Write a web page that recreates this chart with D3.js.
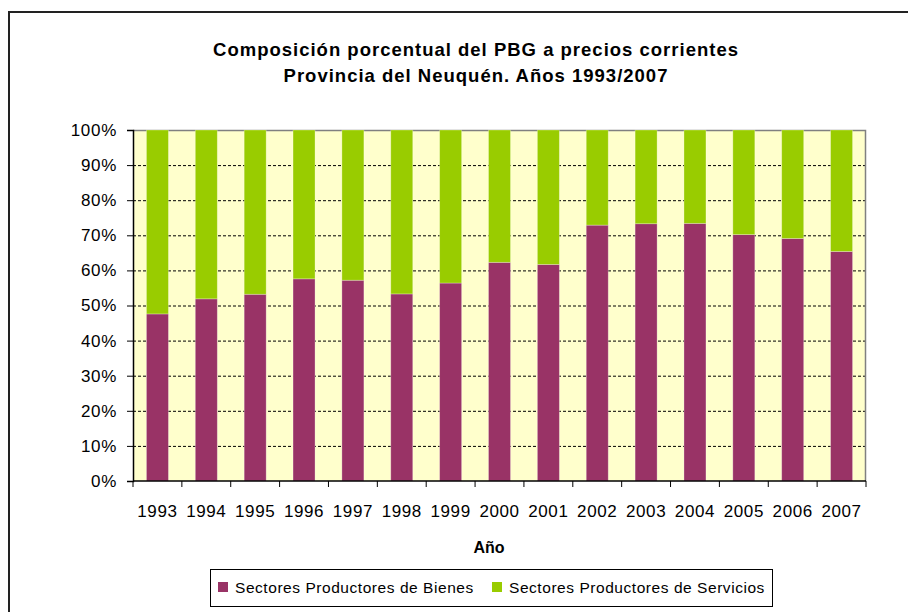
<!DOCTYPE html>
<html>
<head>
<meta charset="utf-8">
<script src="https://cdn.jsdelivr.net/npm/d3@7"></script>
<style>
  body { margin: 0; background: #fff; }
  text { font-family: "Liberation Sans", Arial, sans-serif; fill: #000; }
</style>
</head>
<body>
<div class="chart"></div>
<script>
// data
const years = ["1993","1994","1995","1996","1997","1998","1999","2000","2001","2002","2003","2004","2005","2006","2007"];
const bienes = [47.6, 51.9, 53.2, 57.6, 57.2, 53.3, 56.4, 62.3, 61.7, 72.9, 73.3, 73.4, 70.2, 69.1, 65.4];
const servicios = bienes.map(v => 100 - v);
const seriesNames = ["Sectores Productores de Bienes", "Sectores Productores de Servicios"];
const seriesColors = ["#993366", "#99cc00"];
const yTicks = [0, 10, 20, 30, 40, 50, 60, 70, 80, 90, 100];

const W = 908, H = 612;
const margin = {top: 130, right: 42, bottom: 131, left: 133},
    width = W - margin.left - margin.right,
    height = H - margin.top - margin.bottom;

const root = d3.select(".chart")
  .append("svg")
    .attr("width", W)
    .attr("height", H);

// outer frame (only left and top visible in the reference)
root.append("path")
    .attr("d", `M9,${H} V12 H${W}`)
    .attr("fill", "none")
    .attr("stroke", "#222")
    .attr("stroke-width", 2);

// title
const title = root.append("text")
    .attr("text-anchor", "middle")
    .attr("font-weight", "bold")
    .attr("font-size", "18.5px")
    .attr("letter-spacing", "1px");
title.append("tspan").attr("x", 476).attr("y", 56).text("Composición porcentual del PBG a precios corrientes");
title.append("tspan").attr("x", 476).attr("y", 82).text("Provincia del Neuquén. Años 1993/2007");

const svg = root.append("g")
    .attr("transform", `translate(${margin.left},${margin.top})`);

const x = d3.scaleBand()
    .domain(years)
    .range([0, width])
    .paddingInner(0.55)
    .paddingOuter(0.275);

const y = d3.scaleLinear()
    .domain([0, 100])
    .range([height, 0]);

// plot background
svg.append("rect")
    .attr("width", width)
    .attr("height", height)
    .attr("fill", "#ffffcc");

// gridlines
svg.selectAll(".grid")
  .data(yTicks.filter(t => t > 0 && t < 100))
  .join("line")
    .attr("x1", 0)
    .attr("x2", width)
    .attr("y1", d => y(d) + 0.5)
    .attr("y2", d => y(d) + 0.5)
    .attr("stroke", "#000")
    .attr("stroke-width", 1)
    .attr("stroke-dasharray", "3,2");

// plot border top/right
svg.append("path")
    .attr("d", `M0,0.5 H${width - 0.5} V${height}`)
    .attr("fill", "none")
    .attr("stroke", "#808080")
    .attr("stroke-width", 1.5);

// stacked bars
const table = years.map((yr, i) => ({year: yr, bienes: bienes[i], servicios: servicios[i]}));
const stack = d3.stack().keys(["bienes", "servicios"])(table);

svg.selectAll(".serie")
  .data(stack)
  .join("g")
    .attr("fill", (d, i) => seriesColors[i])
  .selectAll("rect")
  .data(d => d)
  .join("rect")
    .attr("x", d => x(d.data.year))
    .attr("width", x.bandwidth())
    .attr("y", d => y(d[1]))
    .attr("height", d => y(d[0]) - y(d[1]))
    .attr("stroke", "rgba(255,255,255,0.35)")
    .attr("stroke-width", 0.8);

// y axis
const yAxis = svg.append("g")
    .call(d3.axisLeft(y).tickValues(yTicks).tickFormat(d => d + "%").tickSize(6).tickPadding(10));
yAxis.select(".domain").attr("stroke", "#000").attr("stroke-width", 1.5);
yAxis.selectAll(".tick line").attr("stroke", "#000");
yAxis.selectAll(".tick text")
    .attr("font-size", "17px")
    .attr("letter-spacing", "0.7px")
    .attr("font-family", "Liberation Sans, Arial, sans-serif");

// x axis with ticks between categories
const xAxis = svg.append("g")
    .attr("transform", `translate(0,${height})`);
xAxis.append("line")
    .attr("x1", 0).attr("x2", width)
    .attr("stroke", "#000").attr("stroke-width", 1.5);
const step = x.step();
xAxis.selectAll(".sep")
  .data(d3.range(years.length + 1))
  .join("line")
    .attr("x1", d => d * step)
    .attr("x2", d => d * step)
    .attr("y1", 0)
    .attr("y2", 6)
    .attr("stroke", "#000");
xAxis.selectAll(".lbl")
  .data(years)
  .join("text")
    .attr("x", d => x(d) + x.bandwidth() / 2)
    .attr("y", 36)
    .attr("text-anchor", "middle")
    .attr("font-size", "17px")
    .attr("letter-spacing", "0.6px")
    .text(d => d);

// x axis title
root.append("text")
    .attr("x", 489)
    .attr("y", 553)
    .attr("text-anchor", "middle")
    .attr("font-weight", "bold")
    .attr("font-size", "16px")
    .text("Año");

// legend
const legend = root.append("g");
legend.append("rect")
    .attr("x", 210.5).attr("y", 569.5)
    .attr("width", 562).attr("height", 37)
    .attr("fill", "#fff")
    .attr("stroke", "#000");
const legendX = [218, 492];
const items = legend.selectAll(".item")
  .data(seriesNames)
  .join("g")
    .attr("transform", (d, i) => `translate(${legendX[i]},582)`);
items.append("rect")
    .attr("width", 10).attr("height", 10)
    .attr("fill", (d, i) => seriesColors[i]);
items.append("text")
    .attr("x", 17)
    .attr("y", 10.5)
    .attr("font-size", "15.5px")
    .attr("letter-spacing", "0.55px")
    .text(d => d);
</script>
</body>
</html>
